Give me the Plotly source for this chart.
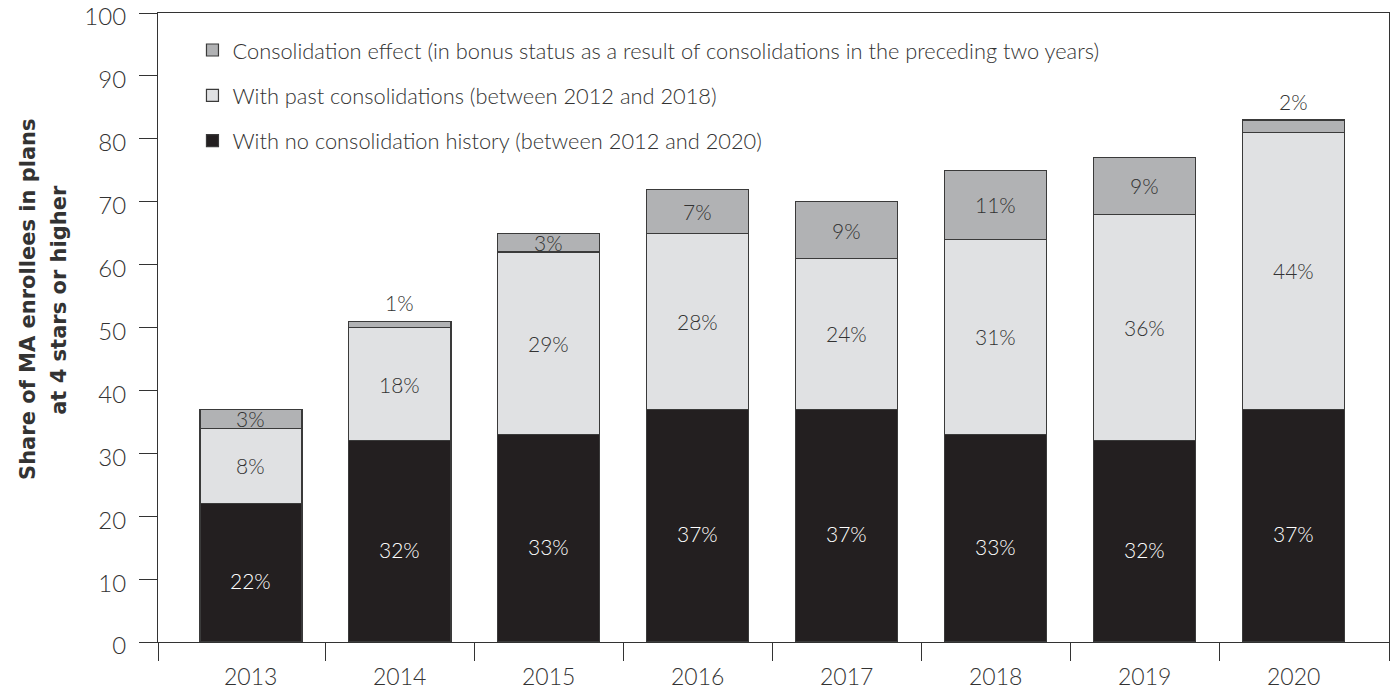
import plotly.graph_objects as go

years = ["2013", "2014", "2015", "2016", "2017", "2018", "2019", "2020"]
no_consol = [22, 32, 33, 37, 37, 33, 32, 37]
past_consol = [12, 18, 29, 28, 24, 31, 36, 44]
effect = [3, 1, 3, 7, 9, 11, 9, 2]

no_labels = ["22%", "32%", "33%", "37%", "37%", "33%", "32%", "37%"]
past_labels = ["8%", "18%", "29%", "28%", "24%", "31%", "36%", "44%"]
effect_labels = ["3%", "1%", "3%", "7%", "9%", "11%", "9%", "2%"]

y_ticks = list(range(0, 101, 10))
series_names = [
    "With no consolidation history (between 2012 and 2020)",
    "With past consolidations (between 2012 and 2018)",
    "Consolidation effect (in bonus status as a result of consolidations in the preceding two years)",
]
y_title_lines = ["Share of MA enrollees in plans", "at 4 stars or higher"]
colors = ["#231f20", "#e0e1e3", "#b1b2b4"]
ranks = [3, 2, 1]

FONT = "Lato"
TXT = "#333333"

xs = list(range(len(years)))
x_lo, x_hi = -0.624, 7.64
boundaries = [x_lo] + [i + 0.5 for i in range(len(years) - 1)] + [x_hi]

fig = go.Figure()
for name, vals, col, grp, rk in zip(series_names, [no_consol, past_consol, effect], colors, ["a", "b", "c"], ranks):
    fig.add_trace(go.Bar(
        x=xs, y=vals, name=name, marker=dict(color=col, line=dict(color="#3a3a3a", width=1.2)),
        width=0.685, legendgroup=grp, legendrank=rk, hoverinfo="skip",
    ))

lab_font = dict(family=FONT, size=21, color=TXT, weight=300)
annotations = []
for i in xs:
    b1 = no_consol[i]
    b2 = b1 + past_consol[i]
    top = b2 + effect[i]
    annotations.append(dict(x=i, y=b1 / 2, yshift=-8, text=no_labels[i], showarrow=False,
                            font=dict(family=FONT, size=21, color="white", weight=300)))
    annotations.append(dict(x=i, y=(b1 + b2) / 2, text=past_labels[i], showarrow=False, font=lab_font))
    if effect[i] <= 2:
        annotations.append(dict(x=i, y=top, yanchor="bottom", yshift=4, text=effect_labels[i],
                                showarrow=False, font=lab_font))
    else:
        annotations.append(dict(x=i, y=(b2 + top) / 2, text=effect_labels[i], showarrow=False, font=lab_font))
    annotations.append(dict(x=i, y=0, yanchor="top", yshift=-18, text=years[i], showarrow=False,
                            font=dict(family=FONT, size=23, color=TXT, weight=300)))

# two-line rotated y-axis title
for line, xp in zip(y_title_lines, [-0.1055, -0.0804]):
    annotations.append(dict(
        xref="paper", yref="paper", x=xp, y=0.544, xanchor="center", yanchor="middle",
        textangle=-90, showarrow=False, text="<b>" + line + "</b>",
        font=dict(family="DejaVu Sans", size=21, color=TXT),
    ))

fig.update_layout(
    width=1392, height=689,
    margin=dict(l=158, r=3, t=13, b=47, autoexpand=False),
    paper_bgcolor="white", plot_bgcolor="white",
    barmode="stack",
    annotations=annotations,
    showlegend=True,
    legend=dict(
        x=0.028, y=0.974, xanchor="left", yanchor="top",
        traceorder="grouped", tracegroupgap=14,
        font=dict(family=FONT, size=21.8, color=TXT, weight=300),
        bgcolor="rgba(0,0,0,0)", itemclick=False,
    ),
    xaxis=dict(
        range=[x_lo, x_hi], tickvals=boundaries, ticktext=[""] * len(boundaries),
        ticks="outside", ticklen=18, tickcolor="#333", tickwidth=1.2,
        showline=True, linecolor="#333", linewidth=1.2, mirror=True,
        showgrid=False, zeroline=False, automargin=False,
    ),
    yaxis=dict(
        range=[0, 100], tickvals=y_ticks, ticks="outside", ticklen=18, tickcolor="#333", tickwidth=1.2,
        showline=True, linecolor="#333", linewidth=1.2, mirror=True,
        showgrid=False, zeroline=False, ticklabelstandoff=8, automargin=False,
        ticklabeloverflow="allow", ticklabelshift=4,
        tickfont=dict(family=FONT, size=24, color=TXT, weight=300),
    ),
)

fig.write_html("out.html", config={"displayModeBar": False},
               post_script="document.body.style.margin='0';")
